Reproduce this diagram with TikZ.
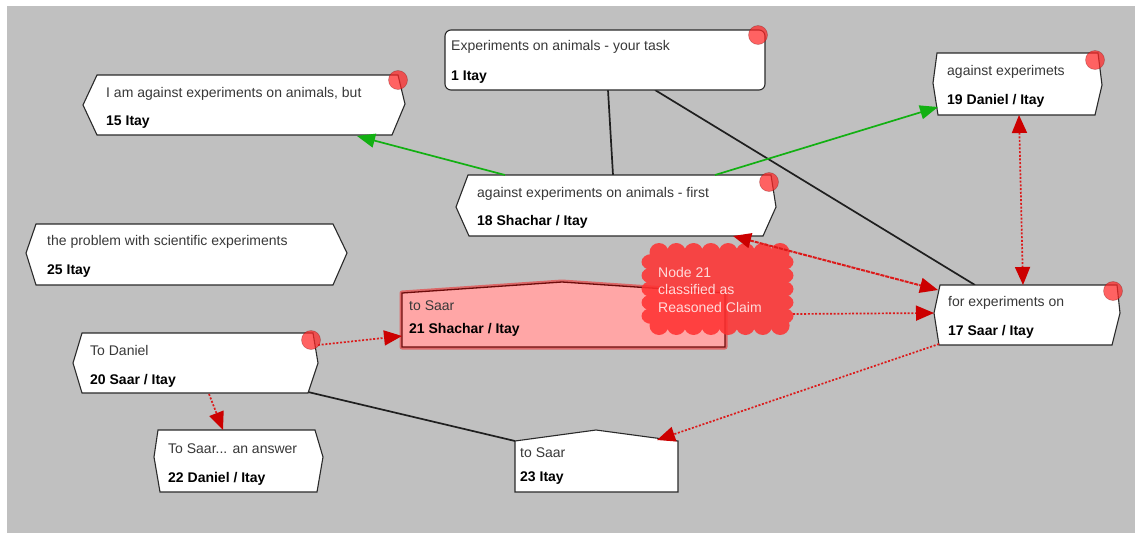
\documentclass[tikz,border=0pt]{standalone}
\usepackage{fontspec}
\setmainfont{Liberation Sans}
\usetikzlibrary{arrows.meta,calc}

\definecolor{canvas}{HTML}{C0C0C0}
\definecolor{dotred}{HTML}{DC1A1A}
\definecolor{tipred}{HTML}{CC0000}
\definecolor{linkgreen}{HTML}{12B012}
\definecolor{claimpink}{HTML}{FFA6A6}
\definecolor{claimedge}{HTML}{6E0C0C}
\definecolor{cloudred}{HTML}{FF3030}
\definecolor{notered}{HTML}{FF2626}
\definecolor{bodytext}{HTML}{383838}
\definecolor{cloudtext}{HTML}{FFDADA}
\definecolor{frame}{HTML}{2A2A2A}

\tikzset{
  boxline/.style={draw=frame, line width=1.1pt, fill=white, line join=miter},
  title/.style={anchor=base west, inner sep=0pt, font=\fontsize{14}{16}\selectfont, text=bodytext},
  author/.style={anchor=base west, inner sep=0pt, font=\fontsize{14}{16}\selectfont\bfseries, text=black},
  cloudline/.style={anchor=base west, inner sep=0pt, font=\fontsize{14}{16}\selectfont, text=cloudtext},
  plainlink/.style={line width=1.7pt, draw=black!88},
  support/.style={line width=1.7pt, draw=linkgreen, -{Triangle[length=18pt,width=14pt]}},
  reply/.style={line width=1.7pt, draw=dotred, dash pattern=on 2pt off 1.7pt,
                -{Triangle[length=18pt,width=15pt,color=tipred]}},
  replyboth/.style={line width=1.7pt, draw=dotred, dash pattern=on 2pt off 1.7pt,
                {Triangle[length=18pt,width=15pt,color=tipred]}-{Triangle[length=18pt,width=15pt,color=tipred]}},
  conflict/.style={line width=2pt, draw=dotred, dash pattern=on 4pt off 1pt,
                {Triangle[length=18pt,width=15pt,color=tipred]}-{Triangle[length=18pt,width=15pt,color=tipred]}},
  marker/.style={circle, fill=notered, fill opacity=0.72, draw=claimedge, draw opacity=0.35,
                 line width=0.6pt, minimum size=19pt, inner sep=0pt},
}

\begin{document}
\begin{tikzpicture}[x=1pt, y=-1pt]
  \useasboundingbox (0,0) rectangle (1135,533);
  \fill[white] (0,0) rectangle (1135,533);
  \fill[canvas] (7,6) rectangle (1135,533);

  % ---------- connector end points ----------
  \coordinate (e1a) at (608,90);   \coordinate (e18top) at (613,175);
  \coordinate (e1b) at (655,90);   \coordinate (e17top) at (975,285);
  \coordinate (e20r) at (308,392); \coordinate (e23l) at (515,441);
  \coordinate (e18l) at (505,175); \coordinate (e15b) at (357,136);
  \coordinate (e18r) at (715,175); \coordinate (e19l) at (938,107);
  \coordinate (e19b) at (1019,115);\coordinate (e17t) at (1023,285);
  \coordinate (e18br) at (733,236);\coordinate (e17tl) at (938,290);
  \coordinate (e21r) at (793,314); \coordinate (e17l) at (934,313);
  \coordinate (e20d) at (318,345); \coordinate (e21l) at (402,336);
  \coordinate (e20b) at (209,394); \coordinate (e22t) at (223,430);
  \coordinate (e17bl) at (939,344);\coordinate (e23r) at (657,440);

  % plain links beneath the boxes
  \draw[plainlink] (e1a) -- (e18top);
  \draw[plainlink] (e1b) -- (e17top);
  \draw[plainlink] (e20r) -- (e23l);

  % ---------- boxes ----------
  % 1
  \draw[boxline, rounded corners=6pt] (445,30) rectangle (765,90);
  \node[title]  (t1)  at (451,50) {Experiments on animals - your task};
  \node[author] (a1)  at (451,80) {1 Itay};

  % 15
  \draw[boxline] (97,75) -- (398,75) -- (405,104) -- (392,135) -- (97,135) -- (83,105) -- cycle;
  \node[title]  (t15) at (106,97)  {I am against experiments on animals, but};
  \node[author] (a15) at (106,125) {15 Itay};

  % 18
  \draw[boxline] (468,175) -- (771,175) -- (776,207) -- (763,236) -- (469,236) -- (456,207) -- cycle;
  \node[title]  (t18) at (477,197) {against experiments on animals - first};
  \node[author] (a18) at (477,225) {18 Shachar / Itay};

  % 19
  \draw[boxline] (937,53) -- (1098,53) -- (1102,85) -- (1095,115) -- (938,115) -- (933,83) -- cycle;
  \node[title]  (t19) at (947,75)  {against experimets};
  \node[author] (a19) at (947,104) {19 Daniel / Itay};

  % 25
  \draw[boxline] (36,224) -- (333,224) -- (347,253) -- (333,285) -- (36,285) -- (26,253) -- cycle;
  \node[title]  (t25) at (47,245) {the problem with scientific experiments};
  \node[author] (a25) at (47,274) {25 Itay};

  % 20
  \draw[boxline] (82,333) -- (313,333) -- (318,363) -- (308,393) -- (82,393) -- (73,363) -- cycle;
  \node[title]  (t20) at (90,355) {To Daniel};
  \node[author] (a20) at (90,384) {20 Saar / Itay};

  % 22
  \draw[boxline] (158,430) -- (315,430) -- (323,457) -- (317,492) -- (160,492) -- (154,457) -- cycle;
  \node[title]  (t22) at (168,453) {To Saar... an answer};
  \node[author] (a22) at (168,482) {22 Daniel / Itay};

  % 17
  \draw[boxline] (940,285) -- (1117,285) -- (1120,313) -- (1112,345) -- (939,345) -- (934,313) -- cycle;
  \node[title]  (t17) at (948,306) {for experiments on};
  \node[author] (a17) at (948,335) {17 Saar / Itay};

  % 23
  \draw[boxline] (515,441) -- (596,430) -- (678,441) -- (678,492) -- (515,492) -- cycle;
  \node[title]  (t23) at (520,457) {to Saar};
  \node[author] (a23) at (520,481) {23 Itay};

  % 21, highlighted claim
  \draw[draw=red, draw opacity=0.45, line width=5pt, line join=round]
    (402,293) -- (562,282) -- (725,293) -- (725,347) -- (402,347) -- cycle;
  \draw[fill=claimpink, draw=claimedge, line width=1.3pt, line join=miter]
    (402,293) -- (562,282) -- (725,293) -- (725,347) -- (402,347) -- cycle;
  \node[title]  (t21) at (409,310) {to Saar};
  \node[author] (a21) at (409,333) {21 Shachar / Itay};

  % ---------- classification cloud ----------
  \begin{scope}[transparency group, opacity=0.86]
    \fill[cloudred] (653,254) rectangle (782,324);
    \foreach \k in {0,...,7} {
      \fill[cloudred] ({659+17.3*\k},252.5) circle (9.5pt);
      \fill[cloudred] ({659+17.3*\k},325.5) circle (9.5pt);
    }
    \foreach \k in {0,...,4} {
      \fill[cloudred] (652,{262+13.5*\k}) ellipse (10.5pt and 8pt);
      \fill[cloudred] (783,{262+13.5*\k}) ellipse (10.5pt and 8pt);
    }
  \end{scope}
  \node[cloudline] (c1) at (658,277) {Node 21};
  \node[cloudline] (c2) at (658,294.5) {classified as};
  \node[cloudline] (c3) at (658,312) {Reasoned Claim};

  % ---------- links with arrowheads ----------
  \draw[support] (e18l) -- (e15b);
  \draw[support] (e18r) -- (e19l);
  \draw[replyboth] (e19b) -- (e17t);
  \draw[conflict] (e18br) -- (e17tl);
  \draw[reply] (e21r) -- (e17l);
  \draw[reply] (e20d) -- (e21l);
  \draw[reply] (e20b) -- (e22t);
  \draw[reply] (e17bl) -- (e23r);

  % ---------- note markers ----------
  \node[marker] (m1)  at (758,35)  {};
  \node[marker] (m15) at (398,80)  {};
  \node[marker] (m18) at (769,182) {};
  \node[marker] (m19) at (1095,60) {};
  \node[marker] (m17) at (1113,291) {};
  \node[marker] (m20) at (311,340) {};
\end{tikzpicture}
\end{document}
